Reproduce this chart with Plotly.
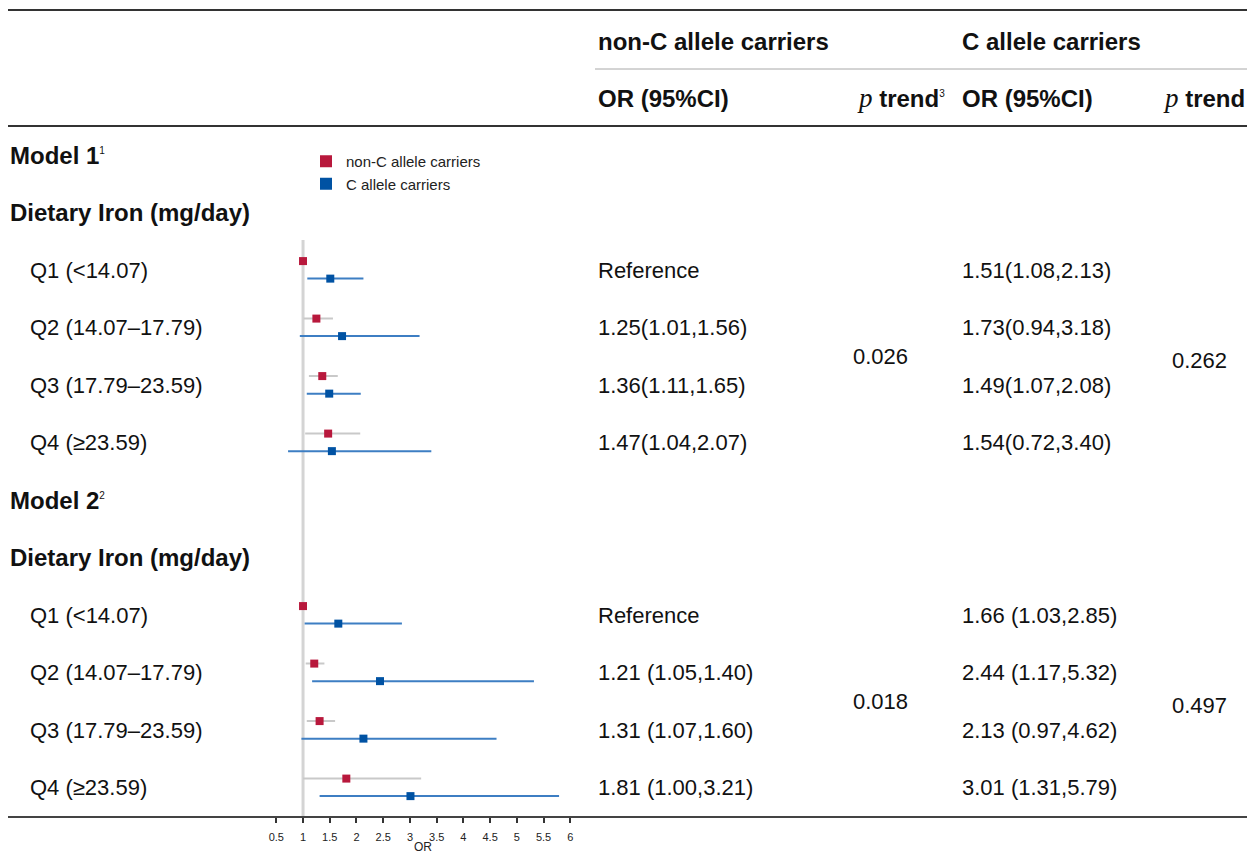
import plotly.graph_objects as go

# ---------------- data ----------------
quartiles = ["Q1 (<14.07)", "Q2 (14.07–17.79)", "Q3 (17.79–23.59)", "Q4 (≥23.59)"]
models = ["Model 1", "Model 2"]
model_notes = ["1", "2"]
exposure = "Dietary Iron (mg/day)"

# Model 1
m1_nonc_or = [1.00, 1.25, 1.36, 1.47]
m1_nonc_lo = [1.00, 1.01, 1.11, 1.04]
m1_nonc_hi = [1.00, 1.56, 1.65, 2.07]
m1_c_or = [1.51, 1.73, 1.49, 1.54]
m1_c_lo = [1.08, 0.94, 1.07, 0.72]
m1_c_hi = [2.13, 3.18, 2.08, 3.40]
m1_nonc_txt = ["Reference", "1.25(1.01,1.56)", "1.36(1.11,1.65)", "1.47(1.04,2.07)"]
m1_c_txt = ["1.51(1.08,2.13)", "1.73(0.94,3.18)", "1.49(1.07,2.08)", "1.54(0.72,3.40)"]

# Model 2
m2_nonc_or = [1.00, 1.21, 1.31, 1.81]
m2_nonc_lo = [1.00, 1.05, 1.07, 1.00]
m2_nonc_hi = [1.00, 1.40, 1.60, 3.21]
m2_c_or = [1.66, 2.44, 2.13, 3.01]
m2_c_lo = [1.03, 1.17, 0.97, 1.31]
m2_c_hi = [2.85, 5.32, 4.62, 5.79]
m2_nonc_txt = ["Reference", "1.21 (1.05,1.40)", "1.31 (1.07,1.60)", "1.81 (1.00,3.21)"]
m2_c_txt = ["1.66 (1.03,2.85)", "2.44 (1.17,5.32)", "2.13 (0.97,4.62)", "3.01 (1.31,5.79)"]

p_trend_nonc = ["0.026", "0.018"]
p_trend_c = ["0.262", "0.497"]

tick_vals = [0.5, 1, 1.5, 2, 2.5, 3, 3.5, 4, 4.5, 5, 5.5, 6]
tick_text = ["0.5", "1", "1.5", "2", "2.5", "3", "3.5", "4", "4.5", "5", "5.5", "6"]
x_range = [0.5, 6]
x_title = "OR"

series_names = ["non-C allele carriers", "C allele carriers"]

# ---------------- layout helpers ----------------
OFF = 8                      # page body margin
W, H = 1247, 847
ROW0_PX, ROW_PX = 155, 57.5  # screen pixel of row 0 and row pitch
AXIS_PX = 817
XD0_PX, XD1_PX = 276.3, 570.3   # screen pixels of x-axis ends (0.5 .. 6)

def px_x(p):
    return (p - OFF) / W

def px_y(p):
    return 1 - (p - OFF) / H

RED = "#B8183C"
BLUE = "#0052A3"
RED_CI = "#C9C9C9"
BLUE_CI = "#3D7EC3"
TXT = "#111111"
FONT = "Liberation Sans, Arial, sans-serif"
REG = 22
BOLD = 24

rows_q = {0: [2, 3, 4, 5], 1: [8, 9, 10, 11]}
rows_model = [0, 6]
rows_expo = [1, 7]

nonc_or = [m1_nonc_or, m2_nonc_or]
nonc_lo = [m1_nonc_lo, m2_nonc_lo]
nonc_hi = [m1_nonc_hi, m2_nonc_hi]
c_or = [m1_c_or, m2_c_or]
c_lo = [m1_c_lo, m2_c_lo]
c_hi = [m1_c_hi, m2_c_hi]
nonc_txt = [m1_nonc_txt, m2_nonc_txt]
c_txt = [m1_c_txt, m2_c_txt]

fig = go.Figure()

OFF_R, OFF_B = -0.155, 0.15

for k, (ors, los, his, color, ci_col, off) in enumerate([
        (nonc_or, nonc_lo, nonc_hi, RED, RED_CI, OFF_R),
        (c_or, c_lo, c_hi, BLUE, BLUE_CI, OFF_B)]):
    xs, ys, ep, em = [], [], [], []
    for m in range(2):
        for i in range(4):
            xs.append(ors[m][i])
            ys.append(rows_q[m][i] + off)
            ep.append(his[m][i] - ors[m][i])
            em.append(ors[m][i] - los[m][i])
    fig.add_trace(go.Scatter(
        x=xs, y=ys, mode="markers", name=series_names[k],
        marker=dict(symbol="square", size=8, color=color, line=dict(width=0)),
        error_x=dict(type="data", symmetric=False, array=ep, arrayminus=em,
                     color=ci_col, thickness=2, width=0),
        hoverinfo="x+name", cliponaxis=False,
    ))

# ---------------- axes ----------------
y_top = -(ROW0_PX - OFF) / ROW_PX
y_bot = (H - (ROW0_PX - OFF)) / ROW_PX

fig.update_layout(
    width=W, height=H,
    margin=dict(l=0, r=0, t=0, b=0),
    paper_bgcolor="white", plot_bgcolor="rgba(0,0,0,0)",
    template="none",
    font=dict(family=FONT, color=TXT),
    showlegend=True,
    legend=dict(x=px_x(306), y=px_y(145), xanchor="left", yanchor="top",
                font=dict(size=15, family=FONT, color="#222"),
                bgcolor="rgba(0,0,0,0)", borderwidth=0, itemsizing="constant",
                tracegroupgap=0),
    xaxis=dict(range=x_range, domain=[px_x(XD0_PX), px_x(XD1_PX)], anchor="free",
               position=px_y(AXIS_PX), showgrid=False, zeroline=False,
               showline=False, ticks="outside", ticklen=5, tickwidth=1.5,
               tickcolor="#333", tickvals=tick_vals, ticktext=tick_text,
               tickfont=dict(size=11, family=FONT, color="#222"),
               ticklabelstandoff=5,
               automargin=False, fixedrange=True),
    yaxis=dict(range=[y_bot, y_top], domain=[0, 1], visible=False,
               showgrid=False, zeroline=False, fixedrange=True),
)

# x-axis title (placed as annotation centred under the axis)
fig.add_annotation(text=x_title, x=sum(x_range) / 2, xref="x", y=px_y(847), yref="paper",
                   xanchor="center", yanchor="middle", showarrow=False,
                   font=dict(size=12, family=FONT, color="#222"))

# reference line at OR = 1
fig.add_shape(type="line", xref="x", yref="paper", x0=1, x1=1,
              y0=px_y(240), y1=px_y(AXIS_PX), line=dict(color="#D4D4D4", width=3),
              layer="below")

# table rules
for ypx, col, wid in [(10, "#333", 2), (126, "#333", 2), (AXIS_PX, "#444", 2)]:
    fig.add_shape(type="line", xref="paper", yref="paper",
                  x0=px_x(8), x1=px_x(1249), y0=px_y(ypx), y1=px_y(ypx),
                  line=dict(color=col, width=wid))
fig.add_shape(type="line", xref="paper", yref="paper",
              x0=px_x(595), x1=px_x(1249), y0=px_y(69), y1=px_y(69),
              line=dict(color="#A8A8A8", width=1))

def ann(text, xpx, y, yref="y", size=REG, xanchor="left"):
    fig.add_annotation(text=text, x=px_x(xpx), xref="paper", y=y, yref=yref,
                       xanchor=xanchor, yanchor="middle", showarrow=False,
                       font=dict(size=size, family=FONT, color=TXT))

SUP = "<sup><span style='font-size:10px'>{}</span></sup>"
PT = "<span style='font-family:Liberation Serif,Times New Roman,serif;font-size:27px'><i>p</i></span><b> trend</b>"

# header
ann("<b>non-C allele carriers</b>", 596, px_y(41), "paper", BOLD)
ann("<b>C allele carriers</b>", 960, px_y(41), "paper", BOLD)
ann("<b>OR (95%CI)</b>", 596, px_y(98), "paper", BOLD)
ann("<b>OR (95%CI)</b>", 960, px_y(98), "paper", BOLD)
ann(PT + SUP.format("3"), 855, px_y(98), "paper", BOLD)
ann(PT, 1161, px_y(98), "paper", BOLD)

for m in range(2):
    ann("<b>" + models[m] + "</b>" + SUP.format(model_notes[m]), 8, rows_model[m], size=BOLD)
    ann("<b>" + exposure + "</b>", 8, rows_expo[m], size=BOLD)
    for i in range(4):
        r = rows_q[m][i]
        ann(quartiles[i], 28, r)
        ann(nonc_txt[m][i], 596, r)
        ann(c_txt[m][i], 960, r)
    mid = (rows_q[m][1] + rows_q[m][2]) / 2
    ann(p_trend_nonc[m], 851, mid)
    ann(p_trend_c[m], 1170, mid + 0.08)

fig.write_html("out.html")
